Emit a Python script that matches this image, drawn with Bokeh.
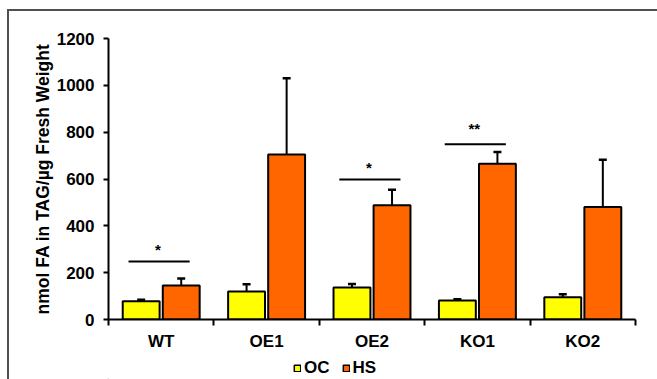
from bokeh.plotting import figure
from bokeh.models import (ColumnDataSource, Whisker, TeeHead, FixedTicker, Legend,
                          LegendItem, Range1d, Column)
from bokeh.core.properties import value
from bokeh.embed import file_html
from bokeh.resources import INLINE

# TAG content per line, control (OC) vs heat stress (HS), with upper error bars
categories = ["WT", "OE1", "OE2", "KO1", "KO2"]
oc = [78, 120, 137, 81, 95]
oc_err = [6, 31, 15, 6, 13]
hs = [145, 705, 488, 665, 480]
hs_err = [30, 325, 66, 50, 202]

# significance brackets (OC vs HS)
sig_groups = ["WT", "OE2", "KO1"]
sig_marks = ["*", "*", "**"]
sig_heights = [248, 598, 748]
sig_star_heights = [299, 649, 816]

y_ticks = [0, 200, 400, 600, 800, 1000, 1200]
series_names = ["OC", "HS"]
series_colors = ["#FFFF00", "#FF6600"]

FONT = "Liberation Sans"
OFF = 0.19
BW = 0.35

idx = list(range(len(categories)))
src_oc = ColumnDataSource(dict(
    x=[i + 0.5 - OFF for i in idx], top=oc,
    upper=[v + e for v, e in zip(oc, oc_err)]))
src_hs = ColumnDataSource(dict(
    x=[i + 0.5 + OFF for i in idx], top=hs,
    upper=[v + e for v, e in zip(hs, hs_err)]))

p = figure(width=648, height=346, output_backend="svg", toolbar_location=None,
           x_range=Range1d(0, len(categories)), y_range=Range1d(0, 1200),
           min_border_left=99, min_border_right=22, min_border_top=27,
           min_border_bottom=38)
p.outline_line_color = None
p.grid.grid_line_color = None
p.background_fill_color = "white"
p.border_fill_color = "white"

p.vbar(x="x", top="top", width=BW, bottom=0, source=src_oc,
       fill_color=series_colors[0], line_color="black", line_width=2)
p.vbar(x="x", top="top", width=BW, bottom=0, source=src_hs,
       fill_color=series_colors[1], line_color="black", line_width=2)

for src in (src_oc, src_hs):
    w = Whisker(source=src, base="x", lower="top", upper="upper",
                line_color="black", line_width=2, lower_head=None,
                upper_head=TeeHead(size=8, line_color="black", line_width=2.5))
    p.add_layout(w)

# significance bars and stars
sx0, sx1, stx = [], [], []
for g in sig_groups:
    i = categories.index(g)
    sx0.append(i + 0.19)
    sx1.append(i + 0.77)
    stx.append(i + 0.47)
p.segment(x0=sx0, x1=sx1, y0=sig_heights, y1=sig_heights,
          line_color="black", line_width=2)
p.text(x=stx, y=sig_star_heights, text=sig_marks, text_align="center",
       text_baseline="middle", text_font=value(FONT), text_font_style="bold",
       text_font_size="15px", text_color="black")

# x axis: category boundaries as ticks, names at centers
xa = p.xaxis[0]
xa.ticker = FixedTicker(ticks=[i + 0.5 for i in idx], minor_ticks=list(range(len(categories) + 1)))
xa.major_label_overrides = {i + 0.5: c for i, c in zip(idx, categories)}
xa.major_tick_out = 0
xa.major_tick_in = 0
xa.minor_tick_out = 6
xa.minor_tick_in = 0
xa.minor_tick_line_width = 2
xa.minor_tick_line_color = "black"
xa.axis_line_width = 2
xa.axis_line_color = "black"
xa.major_label_standoff = 6
xa.major_label_text_font = FONT
xa.major_label_text_font_style = "bold"
xa.major_label_text_font_size = "17px"
xa.major_label_text_color = "black"

ya = p.yaxis[0]
ya.ticker = FixedTicker(ticks=y_ticks)
ya.minor_tick_line_color = None
ya.major_tick_out = 5
ya.major_tick_in = 0
ya.major_tick_line_width = 2
ya.major_tick_line_color = "black"
ya.axis_line_width = 2
ya.axis_line_color = "black"
ya.major_label_standoff = 9
ya.major_label_text_font = FONT
ya.major_label_text_font_style = "bold"
ya.major_label_text_font_size = "17px"
ya.major_label_text_color = "black"
ya.axis_label = "nmol FA in TAG/µg Fresh Weight"
ya.axis_label_text_font = FONT
ya.axis_label_text_font_style = "bold"
ya.axis_label_text_font_size = "17.5px"
ya.axis_label_text_color = "black"
ya.axis_label_standoff = 1

# legend strip under the chart (its frame is aligned with the chart's frame)
leg = figure(width=648, height=22, output_backend="svg", toolbar_location=None,
             x_range=Range1d(0, 10), y_range=Range1d(0, 10),
             x_axis_location=None, y_axis_location=None, min_border=0)
leg.outline_line_color = None
leg.grid.grid_line_color = None
leg.background_fill_color = "white"
leg.border_fill_color = "white"
leg_items = []
for name, color in zip(series_names, series_colors):
    r = leg.vbar(x=[-100], top=[-100], width=1, fill_color=color,
                 line_color="black", line_width=1.5)
    leg_items.append(LegendItem(label=name, renderers=[r]))
legend = Legend(items=leg_items, location=(185, 1), orientation="horizontal",
                glyph_width=8, glyph_height=8, label_standoff=3, spacing=12,
                padding=0, margin=0, border_line_color=None,
                background_fill_alpha=0, label_text_font=FONT,
                label_text_font_style="bold", label_text_font_size="17px",
                label_text_color="black",
                label_height=18, label_text_baseline="middle")
leg.add_layout(legend, "center")

page = Column(children=[p, leg], spacing=0,
              styles={"margin-left": "7px", "margin-top": "9px",
                      "border-left": "2px solid #505050",
                      "border-top": "2px solid #505050"})

open("out.html", "w").write(file_html(page, INLINE))
